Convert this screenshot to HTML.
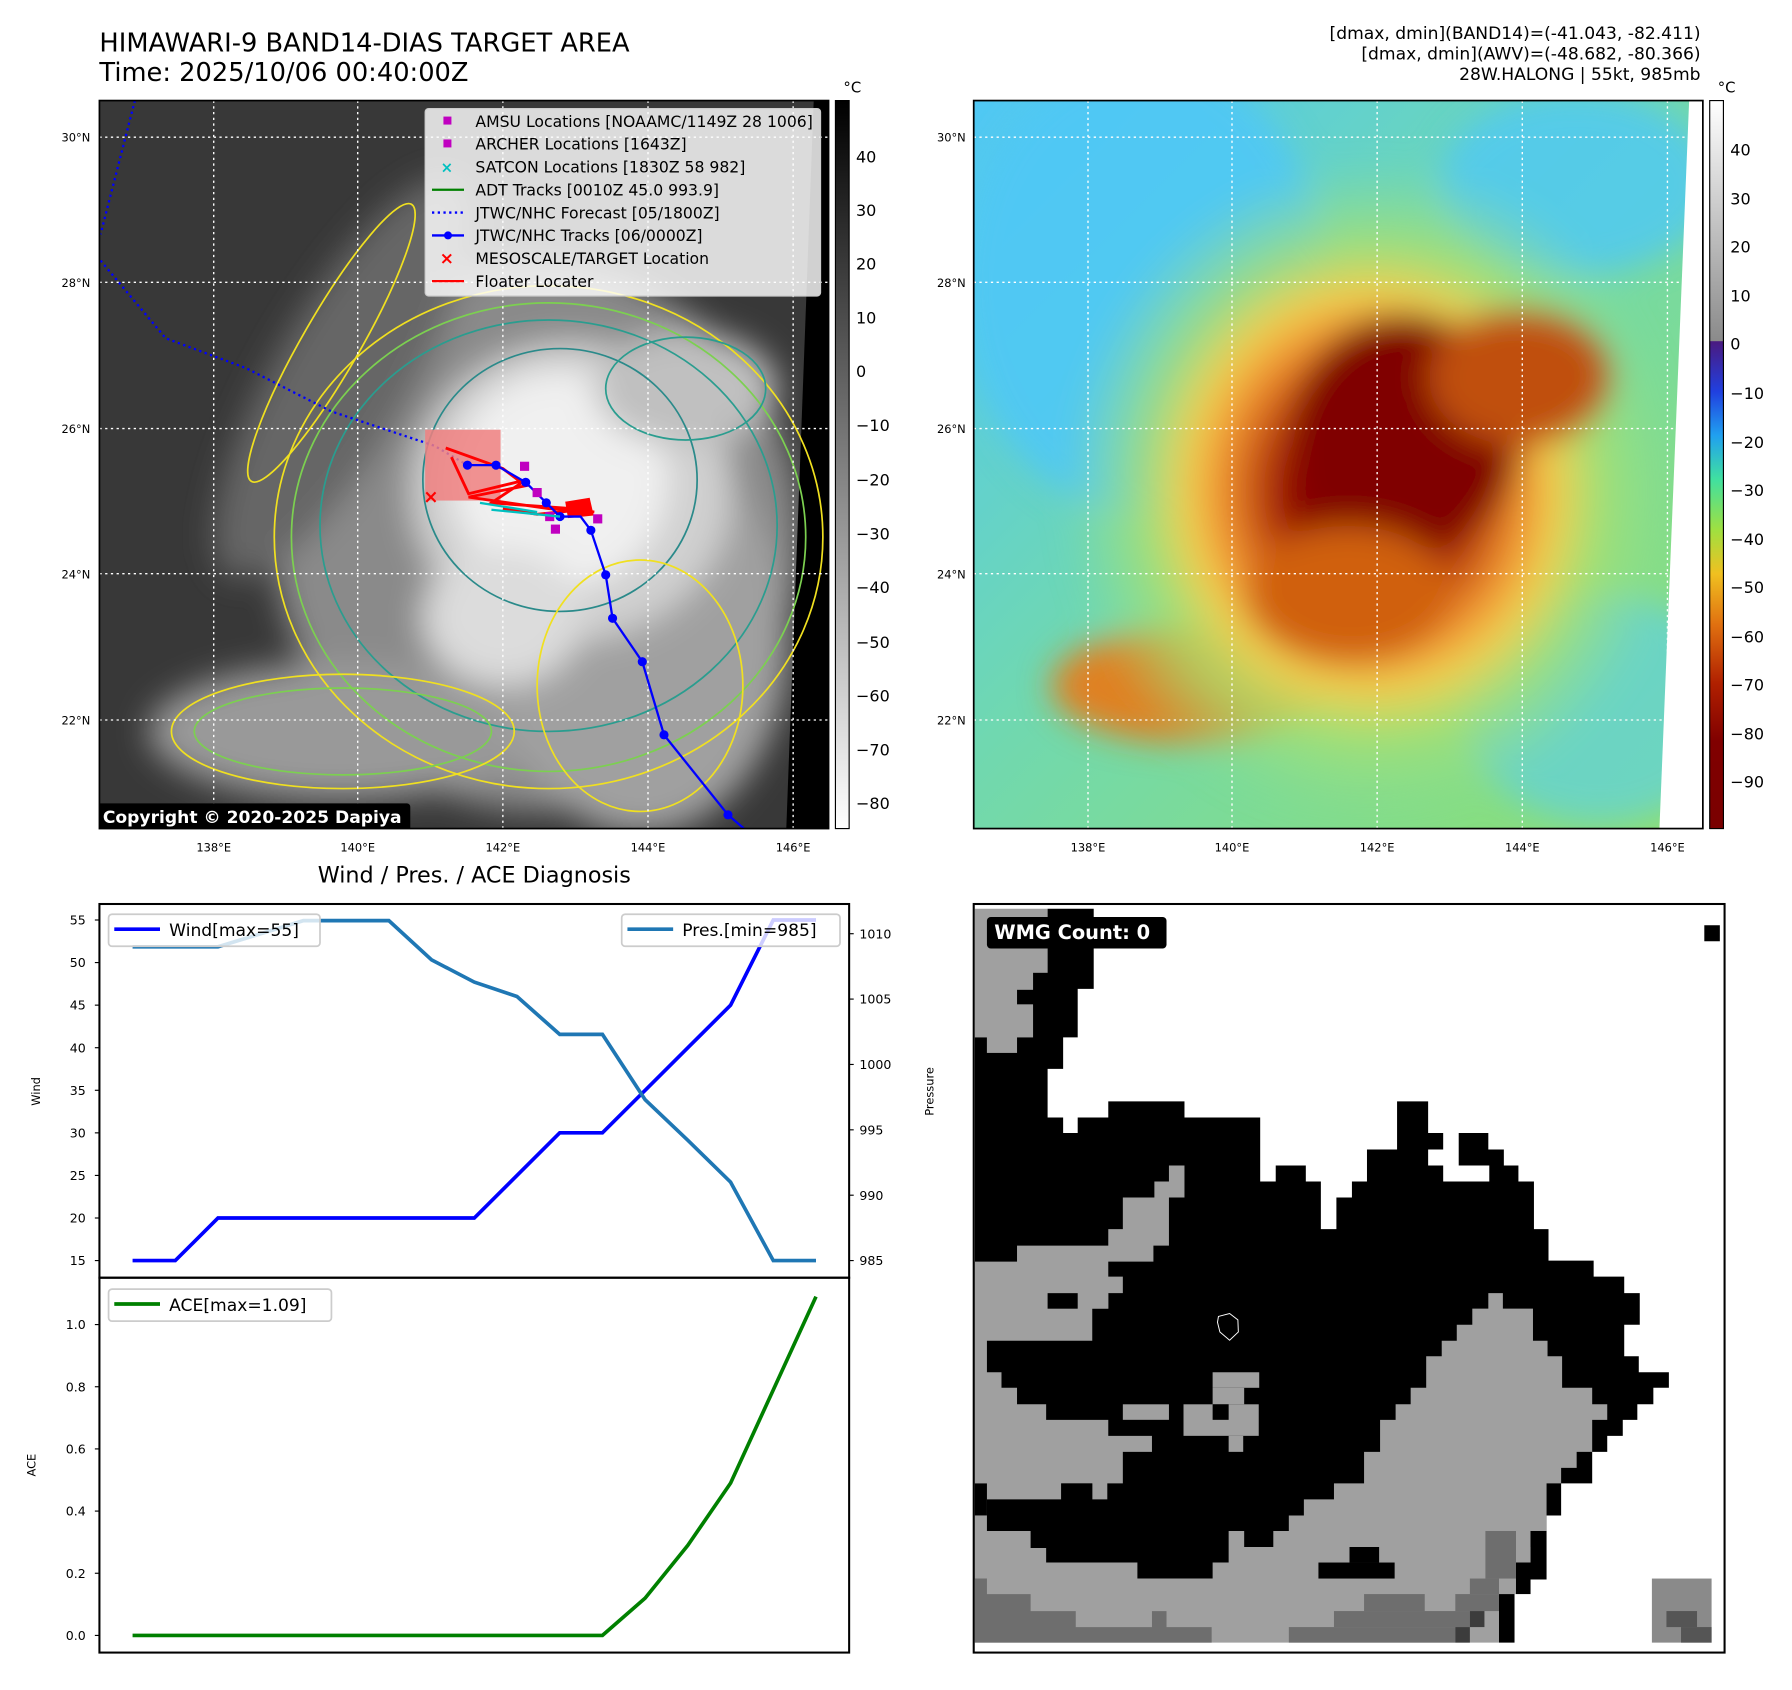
<!DOCTYPE html>
<html><head><meta charset="utf-8"><style>
html,body{margin:0;padding:0;background:#fff}
svg{display:block;font-family:"DejaVu Sans","Liberation Sans",sans-serif}
</style></head><body>
<svg id="root" width="1792" height="1690" viewBox="0 0 1568 1478.75" xmlns="http://www.w3.org/2000/svg">
<defs>
<filter id="blur8" x="-30%" y="-30%" width="160%" height="160%"><feGaussianBlur stdDeviation="14"/></filter>
<clipPath id="clip1"><rect x="87" y="88" width="638" height="637"/></clipPath>
<clipPath id="clip2"><rect x="852" y="88" width="638" height="637"/></clipPath>
<linearGradient id="cb1" x1="0" y1="0" x2="0" y2="1"><stop offset="0" stop-color="#000"/><stop offset="1" stop-color="#fff"/></linearGradient>
<linearGradient id="cb2" x1="0" y1="0" x2="0" y2="1">
<stop offset="0" stop-color="#ffffff"/><stop offset="0.33" stop-color="#8a8a8a"/><stop offset="0.331" stop-color="#4a1a80"/>
<stop offset="0.40" stop-color="#2040e0"/><stop offset="0.46" stop-color="#20a0f0"/><stop offset="0.52" stop-color="#40e0a0"/>
<stop offset="0.59" stop-color="#a0e040"/><stop offset="0.65" stop-color="#f0c020"/><stop offset="0.72" stop-color="#e07010"/>
<stop offset="0.80" stop-color="#b02000"/><stop offset="0.88" stop-color="#800000"/><stop offset="1" stop-color="#7a0000"/></linearGradient>
<linearGradient id="bg2" x1="0" y1="0" x2="1" y2="1"><stop offset="0" stop-color="#50c8f5"/><stop offset="0.45" stop-color="#70d8b0"/><stop offset="1" stop-color="#90e070"/></linearGradient>
<radialGradient id="storm2" cx="0.5" cy="0.5" r="0.5">
<stop offset="0" stop-color="#7a0000"/><stop offset="0.25" stop-color="#8a0000"/><stop offset="0.36" stop-color="#c04a10"/>
<stop offset="0.48" stop-color="#f09030"/><stop offset="0.6" stop-color="#f0d050"/><stop offset="0.75" stop-color="#a8e070" stop-opacity="0.8"/><stop offset="1" stop-color="#90e090" stop-opacity="0"/></radialGradient>
</defs>

<text x="87" y="45" font-size="22.5">HIMAWARI-9 BAND14-DIAS TARGET AREA</text>
<text x="87" y="71" font-size="22.5">Time: 2025/10/06 00:40:00Z</text>
<g font-size="15" text-anchor="end">
<text x="1488" y="34">[dmax, dmin](BAND14)=(-41.043, -82.411)</text>
<text x="1488" y="52">[dmax, dmin](AWV)=(-48.682, -80.366)</text>
<text x="1488" y="70">28W.HALONG | 55kt, 985mb</text>
</g>

<g clip-path="url(#clip1)">
<rect x="87" y="88" width="638" height="637" fill="#383838"/>
<g filter="url(#blur8)">
<ellipse cx="470" cy="470" rx="230" ry="240" fill="#8a8a8a"/>
<ellipse cx="300" cy="330" rx="60" ry="200" fill="#666" transform="rotate(30 300 330)"/>
<ellipse cx="300" cy="640" rx="170" ry="60" fill="#999"/>
<ellipse cx="560" cy="560" rx="130" ry="170" fill="#a0a0a0"/>
<ellipse cx="500" cy="430" rx="140" ry="130" fill="#d0d0d0"/>
<ellipse cx="490" cy="420" rx="95" ry="95" fill="#f0f0f0"/>
<ellipse cx="440" cy="540" rx="70" ry="60" fill="#dcdcdc"/>
<ellipse cx="600" cy="340" rx="80" ry="50" fill="#c0c0c0"/>
</g>
<polygon points="712,88 725,88 725,725 688,725" fill="#000"/>
<g fill="none" stroke-width="1.5">
<ellipse cx="480" cy="470" rx="240" ry="220" stroke="#f0e020"/>
<ellipse cx="480" cy="470" rx="225" ry="205" stroke="#7cd050"/>
<ellipse cx="480" cy="460" rx="200" ry="180" stroke="#2a9d8f"/>
<ellipse cx="490" cy="420" rx="120" ry="115" stroke="#2a8a8a"/>
<ellipse cx="300" cy="640" rx="150" ry="50" stroke="#f0e020"/>
<ellipse cx="300" cy="640" rx="130" ry="38" stroke="#7cd050"/>
<ellipse cx="290" cy="300" rx="25" ry="140" stroke="#f0e020" transform="rotate(30 290 300)"/>
<ellipse cx="600" cy="340" rx="70" ry="45" stroke="#2a9d8f"/>
<ellipse cx="560" cy="600" rx="90" ry="110" stroke="#f0e020"/>
</g>
<g stroke="#fff" stroke-width="1.2" stroke-dasharray="2,3">
<line x1="187" y1="88" x2="187" y2="725"/><line x1="313" y1="88" x2="313" y2="725"/><line x1="440" y1="88" x2="440" y2="725"/><line x1="567" y1="88" x2="567" y2="725"/><line x1="694" y1="88" x2="694" y2="725"/>
<line x1="87" y1="120" x2="725" y2="120"/><line x1="87" y1="247" x2="725" y2="247"/><line x1="87" y1="375" x2="725" y2="375"/><line x1="87" y1="502" x2="725" y2="502"/><line x1="87" y1="630" x2="725" y2="630"/>
</g>
<polyline points="118,88 88,205" fill="none" stroke="#00f" stroke-width="2" stroke-dasharray="2,3"/>
<polyline points="88,228 145,296 215,322 290,360 380,390 409,407" fill="none" stroke="#00f" stroke-width="2" stroke-dasharray="2,3"/>
<rect x="372" y="376" width="66" height="62" fill="#f08080" opacity="0.85"/>
<g stroke="#f00" stroke-width="2.5" fill="none">
<polyline points="390,392 440,410 460,425 410,435 480,445 520,448 500,445 430,440 460,420 410,432 395,400"/>
<polygon points="496,440 515,437 518,450 498,452" fill="#f00"/>
<polyline points="440,445 470,450 500,447"/>
</g>
<polyline points="409,407 434,407 460,422 478,440 490,452 508,452 517,464 530,503 536,541 562,579 581,643 637,713 651,725" fill="none" stroke="#00f" stroke-width="2"/>
<g fill="#00f"><circle cx="409" cy="407" r="4"/><circle cx="434" cy="407" r="4"/><circle cx="460" cy="422" r="4"/><circle cx="478" cy="440" r="4"/><circle cx="490" cy="452" r="4"/><circle cx="517" cy="464" r="4"/><circle cx="530" cy="503" r="4"/><circle cx="536" cy="541" r="4"/><circle cx="562" cy="579" r="4"/><circle cx="581" cy="643" r="4"/><circle cx="637" cy="713" r="4"/></g>
<g fill="#c000c0"><rect x="455" y="404" width="8" height="8"/><rect x="466" y="427" width="8" height="8"/><rect x="482" y="459" width="8" height="8"/><rect x="519" y="450" width="8" height="8"/><rect x="477" y="448" width="8" height="8"/></g>
<g stroke="#00c0c0" stroke-width="2"><line x1="430" y1="446" x2="490" y2="452"/><line x1="420" y1="440" x2="470" y2="448"/></g>
<text x="377" y="440" fill="#f00" font-size="16" font-weight="bold" text-anchor="middle">×</text>
<rect x="84" y="703" width="275" height="24" rx="3" fill="#000"/>
<text x="90" y="720" fill="#fff" font-size="15" font-weight="bold">Copyright © 2020-2025 Dapiya</text>
</g>
<rect x="87" y="88" width="638" height="637" fill="none" stroke="#000" stroke-width="1.5"/>

<g font-size="13.7">
<rect x="372" y="95" width="346" height="164" rx="3" fill="#fff" fill-opacity="0.82" stroke="#ccc"/>
<rect x="388" y="102" width="7" height="7" fill="#c000c0"/><text x="416" y="111">AMSU Locations [NOAAMC/1149Z 28 1006]</text>
<rect x="388" y="122" width="7" height="7" fill="#c000c0"/><text x="416" y="131">ARCHER Locations [1643Z]</text>
<text x="391" y="151" fill="#00c0c0" font-size="13" text-anchor="middle" font-weight="bold">×</text><text x="416" y="151">SATCON Locations [1830Z 58 982]</text>
<line x1="378" y1="166" x2="406" y2="166" stroke="#008000" stroke-width="2"/><text x="416" y="171">ADT Tracks [0010Z 45.0 993.9]</text>
<line x1="378" y1="186" x2="406" y2="186" stroke="#00f" stroke-width="2" stroke-dasharray="2,3"/><text x="416" y="191">JTWC/NHC Forecast [05/1800Z]</text>
<line x1="378" y1="206" x2="406" y2="206" stroke="#00f" stroke-width="2"/><circle cx="392" cy="206" r="3.5" fill="#00f"/><text x="416" y="211">JTWC/NHC Tracks [06/0000Z]</text>
<text x="391" y="231" fill="#f00" font-size="15" text-anchor="middle" font-weight="bold">×</text><text x="416" y="231">MESOSCALE/TARGET Location</text>
<line x1="378" y1="246" x2="406" y2="246" stroke="#f00" stroke-width="2"/><text x="416" y="251">Floater Locater</text>
</g>

<g font-size="10">
<g text-anchor="end"><text x="79" y="124">30°N</text><text x="79" y="251">28°N</text><text x="79" y="379">26°N</text><text x="79" y="506">24°N</text><text x="79" y="634">22°N</text></g>
<g text-anchor="middle"><text x="187" y="745">138°E</text><text x="313" y="745">140°E</text><text x="440" y="745">142°E</text><text x="567" y="745">144°E</text><text x="694" y="745">146°E</text></g>
</g>
<g font-size="10">
<g text-anchor="end"><text x="845" y="124">30°N</text><text x="845" y="251">28°N</text><text x="845" y="379">26°N</text><text x="845" y="506">24°N</text><text x="845" y="634">22°N</text></g>
<g text-anchor="middle"><text x="952" y="745">138°E</text><text x="1078" y="745">140°E</text><text x="1205" y="745">142°E</text><text x="1332" y="745">144°E</text><text x="1459" y="745">146°E</text></g>
</g>

<g font-size="14">
<rect x="731" y="88" width="12" height="637" fill="url(#cb1)" stroke="#000"/>
<text x="738" y="81" font-size="13">°C</text>
<text x="749" y="142">40</text><text x="749" y="189">30</text><text x="749" y="236">20</text><text x="749" y="283">10</text><text x="749" y="330">0</text><text x="749" y="377">−10</text><text x="749" y="425">−20</text><text x="749" y="472">−30</text><text x="749" y="519">−40</text><text x="749" y="567">−50</text><text x="749" y="614">−60</text><text x="749" y="661">−70</text><text x="749" y="708">−80</text>
</g>

<g clip-path="url(#clip2)">
<rect x="852" y="88" width="638" height="637" fill="url(#bg2)"/>
<g filter="url(#blur8)">
<ellipse cx="1000" cy="250" rx="160" ry="200" fill="#50c8f5" opacity="0.9"/>
<ellipse cx="1380" cy="160" rx="120" ry="80" fill="#50c8f5" opacity="0.8"/>
<ellipse cx="1400" cy="620" rx="120" ry="100" fill="#60d0e0" opacity="0.7"/>
<ellipse cx="1040" cy="600" rx="120" ry="50" fill="#e08020"/>
<ellipse cx="1200" cy="430" rx="270" ry="290" fill="url(#storm2)"/>
<ellipse cx="1230" cy="380" rx="100" ry="105" fill="#800000"/>
<ellipse cx="1330" cy="330" rx="80" ry="60" fill="#c05010"/>
<ellipse cx="1180" cy="520" rx="90" ry="60" fill="#d06010"/>
</g>
<polygon points="1478,88 1490,88 1490,725 1452,725" fill="#fff"/>
<g stroke="#fff" stroke-width="1.2" stroke-dasharray="2,3">
<line x1="952" y1="88" x2="952" y2="725"/><line x1="1078" y1="88" x2="1078" y2="725"/><line x1="1205" y1="88" x2="1205" y2="725"/><line x1="1332" y1="88" x2="1332" y2="725"/><line x1="1459" y1="88" x2="1459" y2="725"/>
<line x1="852" y1="120" x2="1490" y2="120"/><line x1="852" y1="247" x2="1490" y2="247"/><line x1="852" y1="375" x2="1490" y2="375"/><line x1="852" y1="502" x2="1490" y2="502"/><line x1="852" y1="630" x2="1490" y2="630"/>
</g>
</g>
<rect x="852" y="88" width="638" height="637" fill="none" stroke="#000" stroke-width="1.5"/>

<g font-size="14">
<rect x="1496" y="88" width="12" height="637" fill="url(#cb2)" stroke="#000"/>
<text x="1503" y="81" font-size="13">°C</text>
<text x="1514" y="136">40</text><text x="1514" y="179">30</text><text x="1514" y="221">20</text><text x="1514" y="264">10</text><text x="1514" y="306">0</text><text x="1514" y="349">−10</text><text x="1514" y="392">−20</text><text x="1514" y="434">−30</text><text x="1514" y="477">−40</text><text x="1514" y="519">−50</text><text x="1514" y="562">−60</text><text x="1514" y="604">−70</text><text x="1514" y="647">−80</text><text x="1514" y="689">−90</text>
</g>

<text x="415" y="772" font-size="19.5" text-anchor="middle">Wind / Pres. / ACE Diagnosis</text>
<g id="windg"></g>
<g id="aceg"></g>
<rect x="87" y="791" width="656" height="327" fill="none" stroke="#000" stroke-width="1.8"/>
<rect x="87" y="1118" width="656" height="328" fill="none" stroke="#000" stroke-width="1.8"/>
<text transform="translate(35,955) rotate(-90)" font-size="10" text-anchor="middle">Wind</text>
<text transform="translate(817,955) rotate(-90)" font-size="10" text-anchor="middle">Pressure</text>
<text transform="translate(31,1282) rotate(-90)" font-size="10" text-anchor="middle">ACE</text>

<g>
<rect x="852" y="791" width="657" height="655" fill="#fff"/>
<g transform="translate(848.7,787.5) scale(0.4247)">
<polygon fill="#a0a0a0" points="10,18 160,18 160,150 130,150 130,185 97,185 97,215 130,215 130,283 97,283 97,315 35,315 35,283 10,283"/>
<polygon fill="#000" points="10,283 35,283 35,315 97,315 97,283 130,283 130,215 97,215 97,185 130,185 130,150 160,150 160,18 255,18 255,183 222,183 222,283 192,283 192,348 160,348 160,448 192,448 192,480 222,480 222,448 285,448 285,415 442,415 442,448 598,448 598,580 630,580 630,547 692,547 692,580 723,580 723,678 755,678 755,613 787,613 787,580 818,580 818,514 880,514 880,415 944,415 944,480 975,480 975,514 944,514 944,547 975,547 975,580 1070,580 1070,547 1007,547 1007,480 1068,480 1068,514 1100,514 1100,547 1130,547 1130,580 1162,580 1162,678 1192,678 1192,743 1285,743 1285,776 1348,776 1348,810 1380,810 1380,875 1348,875 1348,940 1378,940 1378,973 1440,973 1440,1005 1408,1005 1408,1039 1375,1039 1375,1071 1345,1071 1345,1104 1313,1104 1313,1137 1282,1137 1282,1202 1218,1202 1218,1268 1188,1268 1188,1400 10,1400"/>
<polygon fill="#a0a0a0" points="10,745 97,745 97,712 285,712 285,678 315,678 315,613 380,613 380,580 410,580 410,547 442,547 442,613 410,613 410,712 378,712 378,745 285,745 285,776 315,776 315,810 285,810 285,842 252,842 252,908 35,908 35,973 65,973 65,1005 97,1005 97,1039 157,1039 157,1071 285,1071 285,1104 375,1104 375,1137 315,1137 315,1202 283,1202 283,1235 252,1235 252,1202 188,1202 188,1235 35,1235 35,1300 125,1300 125,1335 157,1335 157,1365 345,1365 345,1398 500,1398 500,1365 533,1365 533,1300 565,1300 565,1333 625,1333 625,1300 657,1300 657,1268 688,1268 688,1235 750,1235 750,1202 812,1202 812,1137 845,1137 845,1071 877,1071 877,1039 908,1039 908,1005 940,1005 940,940 972,940 972,908 1003,908 1003,875 1035,875 1035,842 1068,842 1068,810 1098,810 1098,842 1160,842 1160,908 1190,908 1190,940 1220,940 1220,1005 1282,1005 1282,1039 1313,1039 1313,1071 1282,1071 1282,1137 1250,1137 1250,1170 1218,1170 1218,1202 1188,1202 1188,1300 1155,1300 1155,1365 1125,1365 1125,1430 1090,1430 1090,1530 10,1530"/>
<g fill="#a0a0a0"><rect x="500" y="973" width="96" height="32"/><rect x="500" y="1005" width="65" height="34"/><rect x="315" y="1039" width="95" height="32"/><rect x="440" y="1039" width="155" height="65"/><rect x="533" y="1104" width="30" height="33"/><rect x="222" y="810" width="63" height="32"/></g>
<g fill="#000"><rect x="160" y="810" width="62" height="32"/><rect x="500" y="1039" width="33" height="32"/><rect x="718" y="1365" width="157" height="33"/><rect x="782" y="1333" width="61" height="32"/><rect x="1155" y="1300" width="32" height="33"/><rect x="1125" y="1365" width="30" height="65"/><rect x="1090" y="1430" width="32" height="100"/><rect x="1513" y="52" width="32" height="33"/><rect x="188" y="1202" width="64" height="33"/><rect x="10" y="1202" width="25" height="66"/></g>
<g fill="#6e6e6e"><polygon points="10,1398 35,1398 35,1430 125,1430 125,1465 218,1465 218,1498 375,1498 375,1465 405,1465 405,1498 498,1498 498,1530 10,1530"/><rect x="657" y="1498" width="343" height="32"/><rect x="750" y="1465" width="280" height="33"/><rect x="812" y="1430" width="125" height="35"/><rect x="1000" y="1430" width="90" height="35"/><rect x="1030" y="1398" width="60" height="32"/><rect x="1062" y="1300" width="63" height="98"/></g>
<g fill="#3c3c3c"><rect x="1030" y="1465" width="30" height="33"/><rect x="1000" y="1498" width="30" height="32"/></g>
<rect x="1405" y="1398" width="123" height="132" fill="#8a8a8a"/>
<g fill="#555"><rect x="1435" y="1465" width="63" height="33"/><rect x="1465" y="1498" width="63" height="32"/></g>
<polygon points="512,858 535,852 552,865 553,890 535,907 515,890 510,870" fill="none" stroke="#fff" stroke-width="2"/>
<rect x="35" y="35" width="370" height="65" rx="8" fill="#000"/>
<text x="50" y="80" fill="#fff" font-size="40" font-weight="bold">WMG Count: 0</text>
</g>
<rect x="852" y="791" width="657" height="655" fill="none" stroke="#000" stroke-width="1.8"/>
</g>
</svg>
<script>
const windVals = [15,15,20,20,20,20,20,20,20,25,30,30,35,40,45,55,55];
const presVals = [1009,1009,1009,1010,1011,1011,1011,1008,1006.3,1005.2,1002.3,1002.3,997.3,994.2,991,985,985];
const aceVals = [0,0,0,0,0,0,0,0,0,0,0,0,0.12,0.29,0.49,0.79,1.09];
const windTicks = [15,20,25,30,35,40,45,50,55];
const presTicks = [985,990,995,1000,1005,1010];
const aceTicks = [0.0,0.2,0.4,0.6,0.8,1.0];
const aceTickLabels = ["0.0","0.2","0.4","0.6","0.8","1.0"];

const NS = "http://www.w3.org/2000/svg";
function xAt(i){ return 116 + i*(714-116)/(windVals.length-1); }
function yWind(v){ return 1103 - (v-15)*(1103-805)/40; }
function yPres(v){ return 1103 - (v-985)*(1103-817)/25; }
function yAce(v){ return 1431 - v*(1431-1159); }
function mk(tag, attrs, parent){ const e=document.createElementNS(NS,tag); for(const k in attrs) e.setAttribute(k,attrs[k]); parent.appendChild(e); return e; }

const wg = document.getElementById('windg');
const ag = document.getElementById('aceg');

windTicks.forEach(t=>{
  const y=yWind(t);
  const l=mk('line',{x1:83,y1:y,x2:87,y2:y,stroke:'#000'},wg);
  
  
  const tx=mk('text',{x:75,y:y+4,'font-size':11,'text-anchor':'end'},wg);
  tx.textContent=t;
  
  
});
presTicks.forEach(t=>{
  const y=yPres(t);
  const l=mk('line',{x1:743,y1:y,x2:747,y2:y,stroke:'#000'},wg);
  
  
  const tx=mk('text',{x:752,y:y+4,'font-size':11},wg);
  tx.textContent=t;
  
  
});
aceTicks.forEach((t,i)=>{
  const y=yAce(t);
  const l=mk('line',{x1:83,y1:y,x2:87,y2:y,stroke:'#000'},ag);
  
  
  const tx=mk('text',{x:75,y:y+4,'font-size':11,'text-anchor':'end'},ag);
  tx.textContent=aceTickLabels[i];
  
  
});

const windLine=mk('polyline',{points:windVals.map((v,i)=>xAt(i)+','+yWind(v)).join(' '),fill:'none',stroke:'#0000ff','stroke-width':3.2},wg);


const presLine=mk('polyline',{points:presVals.map((v,i)=>xAt(i)+','+yPres(v)).join(' '),fill:'none',stroke:'#1f77b4','stroke-width':3.2},wg);


const aceLine=mk('polyline',{points:aceVals.map((v,i)=>xAt(i)+','+yAce(v)).join(' '),fill:'none',stroke:'#008000','stroke-width':3.2},ag);



function legend(parent,x,y,w,color,label,name){
  const g=mk('g',{},parent);
  
  
  mk('rect',{x:x,y:y,width:w,height:28,rx:3,fill:'#fff','fill-opacity':0.8,stroke:'#ccc','stroke-width':1.5},g);
  mk('line',{x1:x+5,y1:y+13,x2:x+45,y2:y+13,stroke:color,'stroke-width':3.2},g);
  const t=mk('text',{x:x+53,y:y+19,'font-size':15},g);
  t.textContent=label;
}
legend(wg,95,800,185,'#0000ff','Wind[max=55]','wind-legend');
legend(wg,544,800,191,'#1f77b4','Pres.[min=985]','pressure-legend');
legend(ag,95,1128,195,'#008000','ACE[max=1.09]','ace-legend');
</script>
</body></html>
